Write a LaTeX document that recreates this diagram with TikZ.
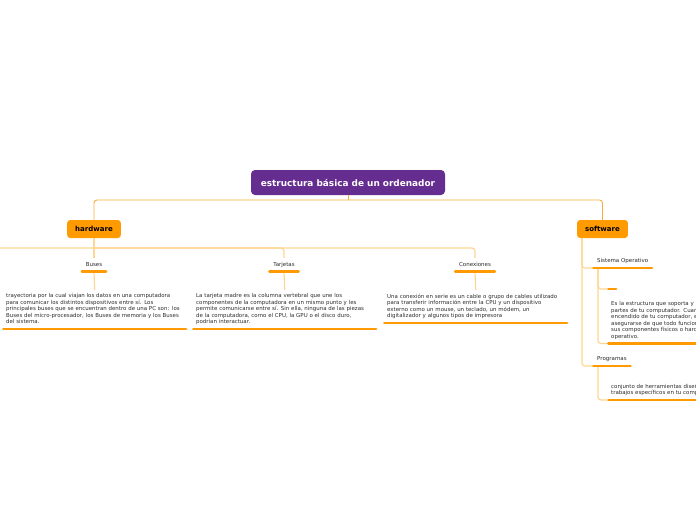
\documentclass[tikz,border=0pt]{standalone}
\usepackage{fontspec}
\setmainfont{DejaVu Sans}

\definecolor{mappurple}{HTML}{662D91}
\definecolor{maporange}{HTML}{FF9A00}
\definecolor{linkmain}{HTML}{F8AC3C}
\definecolor{linkpale}{HTML}{FFD592}
\definecolor{mapink}{HTML}{2B2B2B}

\tikzset{
  central/.style={fill=mappurple, rounded corners=4pt, text=white, inner sep=0pt,
    minimum width=194pt, minimum height=25pt, font=\fontsize{8.9}{10}\selectfont\bfseries},
  mainbox/.style={fill=maporange, rounded corners=3pt, text=black, inner xsep=8pt,
    minimum height=18pt, font=\fontsize{7}{8}\selectfont\bfseries},
  topic/.style={text=mapink, inner xsep=5pt, inner ysep=4pt, text height=4pt, text depth=1pt,
    font=\fontsize{5.5}{6}\selectfont},
  note/.style={text=mapink, text width=177pt, align=left, inner xsep=4pt, inner ysep=3.6pt,
    anchor=south west, font=\fontsize{5.45}{6.6}\selectfont,
    execute at end node={\rule[-1.3pt]{0pt}{1pt}}},
  bar/.style={maporange, line width=2.6pt, line cap=round, shorten <=1.3pt, shorten >=1.3pt},
  link/.style={linkmain, line width=0.9pt, rounded corners=3pt},
  sublink/.style={linkpale, line width=1.2pt, rounded corners=3pt},
}

\begin{document}
\begin{tikzpicture}[x=1pt,y=-1pt]
  \useasboundingbox (0,0) rectangle (696,520);
  \clip (0,0) rectangle (696,520);
  % central topic and main branches
  \node[central] (root) at (348,182.5) {estructura básica de un ordenador};
  \node[mainbox] (hw) at (94,229) {hardware};
  \node[mainbox] (sw) at (602.5,229) {software};
  \coordinate (hub) at (348,200);
  \draw[link] (root.south) -- (hub);
  \draw[link] (hub) -| (hw.north);
  \draw[link] (hub) -| (sw.north);

  % hardware subtopics
  \node[topic, anchor=south] (buses) at (94,271.5) {Buses};
  \node[topic, anchor=south] (tarjetas) at (284,271.5) {Tarjetas};
  \node[topic, anchor=south] (conex) at (475,271.5) {Conexiones};
  \coordinate (hwleft) at (0,248);
  \coordinate (hwfork) at (94,248);
  \draw[sublink] (hw.south) -- (buses.north);
  \draw[sublink] (hwleft) -- (hwfork) -| (conex.north);
  \draw[sublink] (hwfork) -| (tarjetas.north);

  \node[note] (busesnote) at (2,329) {trayectoria por la cual viajan los datos en una computadora\\
    para comunicar los distintos dispositivos entre sí. Los\\
    principales buses que se encuentran dentro de una PC son: los\\
    Buses del micro-procesador, los Buses de memoria y los Buses\\
    del sistema.};
  \node[note] (tarjnote) at (192,329) {La tarjeta madre es la columna vertebral que une los\\
    componentes de la computadora en un mismo punto y les\\
    permite comunicarse entre sí. Sin ella, ninguna de las piezas\\
    de la computadora, como el CPU, la GPU o el disco duro,\\
    podrían interactuar.};
  \node[note] (conexnote) at (383,323) {Una conexión en serie es un cable o grupo de cables utilizado\\
    para transferir información entre la CPU y un dispositivo\\
    externo como un mouse, un teclado, un módem, un\\
    digitalizador y algunos tipos de impresora};
  \draw[sublink] (buses.south) -- (busesnote.north);
  \draw[sublink] (tarjetas.south) -- (tarjnote.north);
  \draw[sublink] (conex.south) -- (conexnote.north);

  % software subtopics
  \node[topic, anchor=south west] (sisop) at (592,268) {Sistema Operativo\hspace{2pt}};
  \node[topic, anchor=south west] (prog) at (592,366) {Programas};
  \draw[sublink] ([xshift=5pt]sw.south west) |- (sisop.south west);
  \draw[sublink] ([xshift=5pt]sw.south west) |- (prog.south west);

  \node[topic, anchor=south west, inner xsep=0pt, minimum width=10pt] (sisopsub) at (607,289) {};
  \node[note] (sisopnote) at (607,343.5) {Es la estructura que soporta y maneja todas las\\
    partes de tu computador. Cuando presionas el botón de\\
    encendido de tu computador, el sistema se encarga de\\
    asegurarse de que todo funcione bien y de que\\
    sus componentes físicos o hardware trabajen con el\\
    operativo.};
  \node[note] (prognote) at (607,400) {conjunto de herramientas diseñadas para realizar\\
    trabajos específicos en tu computador.};
  \draw[sublink] ([xshift=6pt]sisop.south west) |- (sisopsub.south west);
  \draw[sublink] ([xshift=6pt]sisop.south west) |- (sisopnote.south west);
  \draw[sublink] ([xshift=6pt]prog.south west) |- (prognote.south west);

  % underline bars
  \foreach \n in {buses,tarjetas,conex,sisop,prog,sisopsub,busesnote,tarjnote,conexnote,sisopnote,prognote}
    \draw[bar] (\n.south west) -- (\n.south east);
\end{tikzpicture}
\end{document}
